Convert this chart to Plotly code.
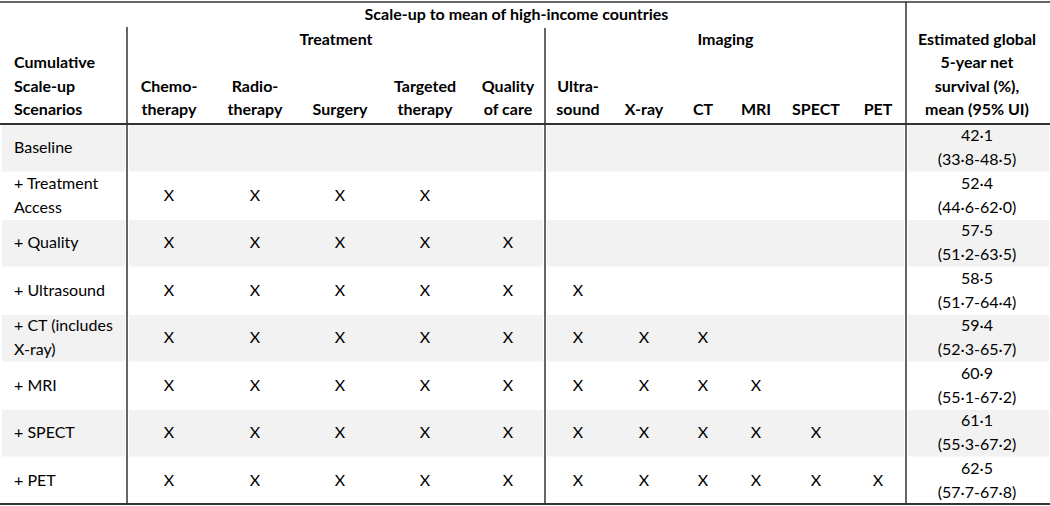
import plotly.graph_objects as go

# ---------------- data ----------------
scenarios = ["Baseline", "+ Treatment<br>Access", "+ Quality", "+ Ultrasound",
             "+ CT (includes<br>X-ray)", "+ MRI", "+ SPECT", "+ PET"]
treatment_cols = ["Chemo-<br>therapy", "Radio-<br>therapy", "Surgery", "Targeted<br>therapy", "Quality<br>of care"]
imaging_cols = ["Ultra-<br>sound", "X-ray", "CT", "MRI", "SPECT", "PET"]
included = [
    [0, 0, 0, 0, 0, 0, 0, 0, 0, 0, 0],
    [1, 1, 1, 1, 0, 0, 0, 0, 0, 0, 0],
    [1, 1, 1, 1, 1, 0, 0, 0, 0, 0, 0],
    [1, 1, 1, 1, 1, 1, 0, 0, 0, 0, 0],
    [1, 1, 1, 1, 1, 1, 1, 1, 0, 0, 0],
    [1, 1, 1, 1, 1, 1, 1, 1, 1, 0, 0],
    [1, 1, 1, 1, 1, 1, 1, 1, 1, 1, 0],
    [1, 1, 1, 1, 1, 1, 1, 1, 1, 1, 1],
]
survival_mean = [42.1, 52.4, 57.5, 58.5, 59.4, 60.9, 61.1, 62.5]
ui_low = [33.8, 44.6, 51.2, 51.7, 52.3, 55.1, 55.3, 57.7]
ui_high = [48.5, 62.0, 63.5, 64.4, 65.7, 67.2, 67.2, 67.8]
first_header = "Cumulative<br>Scale-up<br>Scenarios"
estimate_header = "Estimated global<br>5-year net<br>survival (%),<br>mean (95% UI)"
super_header = "Scale-up to mean of high-income countries"
group_headers = ["Treatment", "Imaging"]

# ---------------- layout / style ----------------
W, H = 1050, 506
FONT = "Lato"
FS = 16
TXT = "#000000"
LINE = "#333333"
SHADE = "#f2f2f2"
first_x = 14
col_x = [169, 255, 340, 425, 508, 578, 644, 703, 756, 816, 878]
est_x = 977
v_lines = [127, 545, 906]
body_top, body_bot = 124, 504
header_last_line_y = 111
header_gap = 23.5
body_gap = 24
text_dy = 1.5
row_h = (body_bot - body_top) / len(scenarios)


def dot(v):
    return f"{v:.1f}".replace(".", "\u00b7")


def lines_centered(label, y_center, gap):
    parts = label.split("<br>")
    n = len(parts)
    return [(p, y_center + text_dy + (k - (n - 1) / 2) * gap) for k, p in enumerate(parts)]


def lines_bottom(label, y_last, gap):
    parts = label.split("<br>")
    n = len(parts)
    return [(p, y_last - (n - 1 - k) * gap) for k, p in enumerate(parts)]


fig = go.Figure()


def add_text(xs, ys, texts, bold=False, pos="middle center"):
    fig.add_trace(go.Scatter(
        x=xs, y=ys, text=texts, mode="text", textposition=pos,
        textfont=dict(family=FONT, size=FS, color=TXT, weight="bold" if bold else "normal"),
        hoverinfo="skip", showlegend=False, cliponaxis=False))


# shading of alternate rows
shapes = []
seg_edges = [(2, v_lines[0] - 2), (v_lines[0] + 2, v_lines[1] - 2),
             (v_lines[1] + 2, v_lines[2] - 2), (v_lines[2] + 2, W - 1)]
for i in range(len(scenarios)):
    if i % 2 == 0:
        y0 = body_top + i * row_h + 1
        y1 = body_top + (i + 1) * row_h
        for a, b in seg_edges:
            shapes.append(dict(type="rect", xref="x", yref="y", x0=a, x1=b, y0=y0, y1=y1,
                               fillcolor=SHADE, line=dict(width=0), layer="below"))

# rules
shapes.append(dict(type="line", xref="x", yref="y", x0=0, x1=W, y0=2, y1=2, line=dict(color=LINE, width=1.5)))
shapes.append(dict(type="line", xref="x", yref="y", x0=0, x1=W, y0=body_top, y1=body_top, line=dict(color=LINE, width=2)))
shapes.append(dict(type="line", xref="x", yref="y", x0=0, x1=W, y0=body_bot, y1=body_bot, line=dict(color=LINE, width=2)))
shapes.append(dict(type="line", xref="x", yref="y", x0=v_lines[0], x1=v_lines[0], y0=27, y1=body_bot, line=dict(color=LINE, width=1.5)))
shapes.append(dict(type="line", xref="x", yref="y", x0=v_lines[1], x1=v_lines[1], y0=28, y1=body_bot, line=dict(color=LINE, width=1.5)))
shapes.append(dict(type="line", xref="x", yref="y", x0=v_lines[2], x1=v_lines[2], y0=2, y1=body_bot, line=dict(color=LINE, width=1.5)))

# headers
add_text([(v_lines[0] + v_lines[2]) / 2], [16], [super_header], bold=True)
add_text([(v_lines[0] + v_lines[1]) / 2, (v_lines[1] + v_lines[2]) / 2], [41, 41], group_headers, bold=True)

hx, hy, ht = [], [], []
for cx, lab in zip(col_x, treatment_cols + imaging_cols):
    for t, y in lines_bottom(lab, header_last_line_y, header_gap):
        hx.append(cx); hy.append(y); ht.append(t)
for t, y in lines_bottom(estimate_header, header_last_line_y, header_gap):
    hx.append(est_x); hy.append(y); ht.append(t)
add_text(hx, hy, ht, bold=True)

fx, fy, ft = [], [], []
for t, y in lines_bottom(first_header, header_last_line_y, header_gap):
    fx.append(first_x); fy.append(y); ft.append(t)
add_text(fx, fy, ft, bold=True, pos="middle right")

# body: scenario labels
sx, sy, st = [], [], []
for i, lab in enumerate(scenarios):
    yc = body_top + (i + 0.5) * row_h
    for t, y in lines_centered(lab, yc, body_gap):
        sx.append(first_x); sy.append(y); st.append(t)
add_text(sx, sy, st, pos="middle right")

# body: X marks
mx, my, mt = [], [], []
for i, row in enumerate(included):
    yc = body_top + (i + 0.5) * row_h + text_dy
    for j, v in enumerate(row):
        if v:
            mx.append(col_x[j]); my.append(yc); mt.append("X")
add_text(mx, my, mt)

# body: estimates
ex, ey, et = [], [], []
for i in range(len(scenarios)):
    yc = body_top + (i + 0.5) * row_h
    lab = f"{dot(survival_mean[i])}<br>({dot(ui_low[i])}-{dot(ui_high[i])})"
    for t, y in lines_centered(lab, yc, body_gap):
        ex.append(est_x); ey.append(y); et.append(t)
add_text(ex, ey, et)

fig.update_layout(
    width=W, height=H, margin=dict(l=0, r=0, t=0, b=0),
    paper_bgcolor="white", plot_bgcolor="white",
    xaxis=dict(range=[0, W], visible=False, fixedrange=True),
    yaxis=dict(range=[H, 0], visible=False, fixedrange=True),
    shapes=shapes, showlegend=False,
)

fig.write_html("out.html", config={"displayModeBar": False},
               post_script="document.body.style.margin='0';document.body.style.overflow='hidden';")
